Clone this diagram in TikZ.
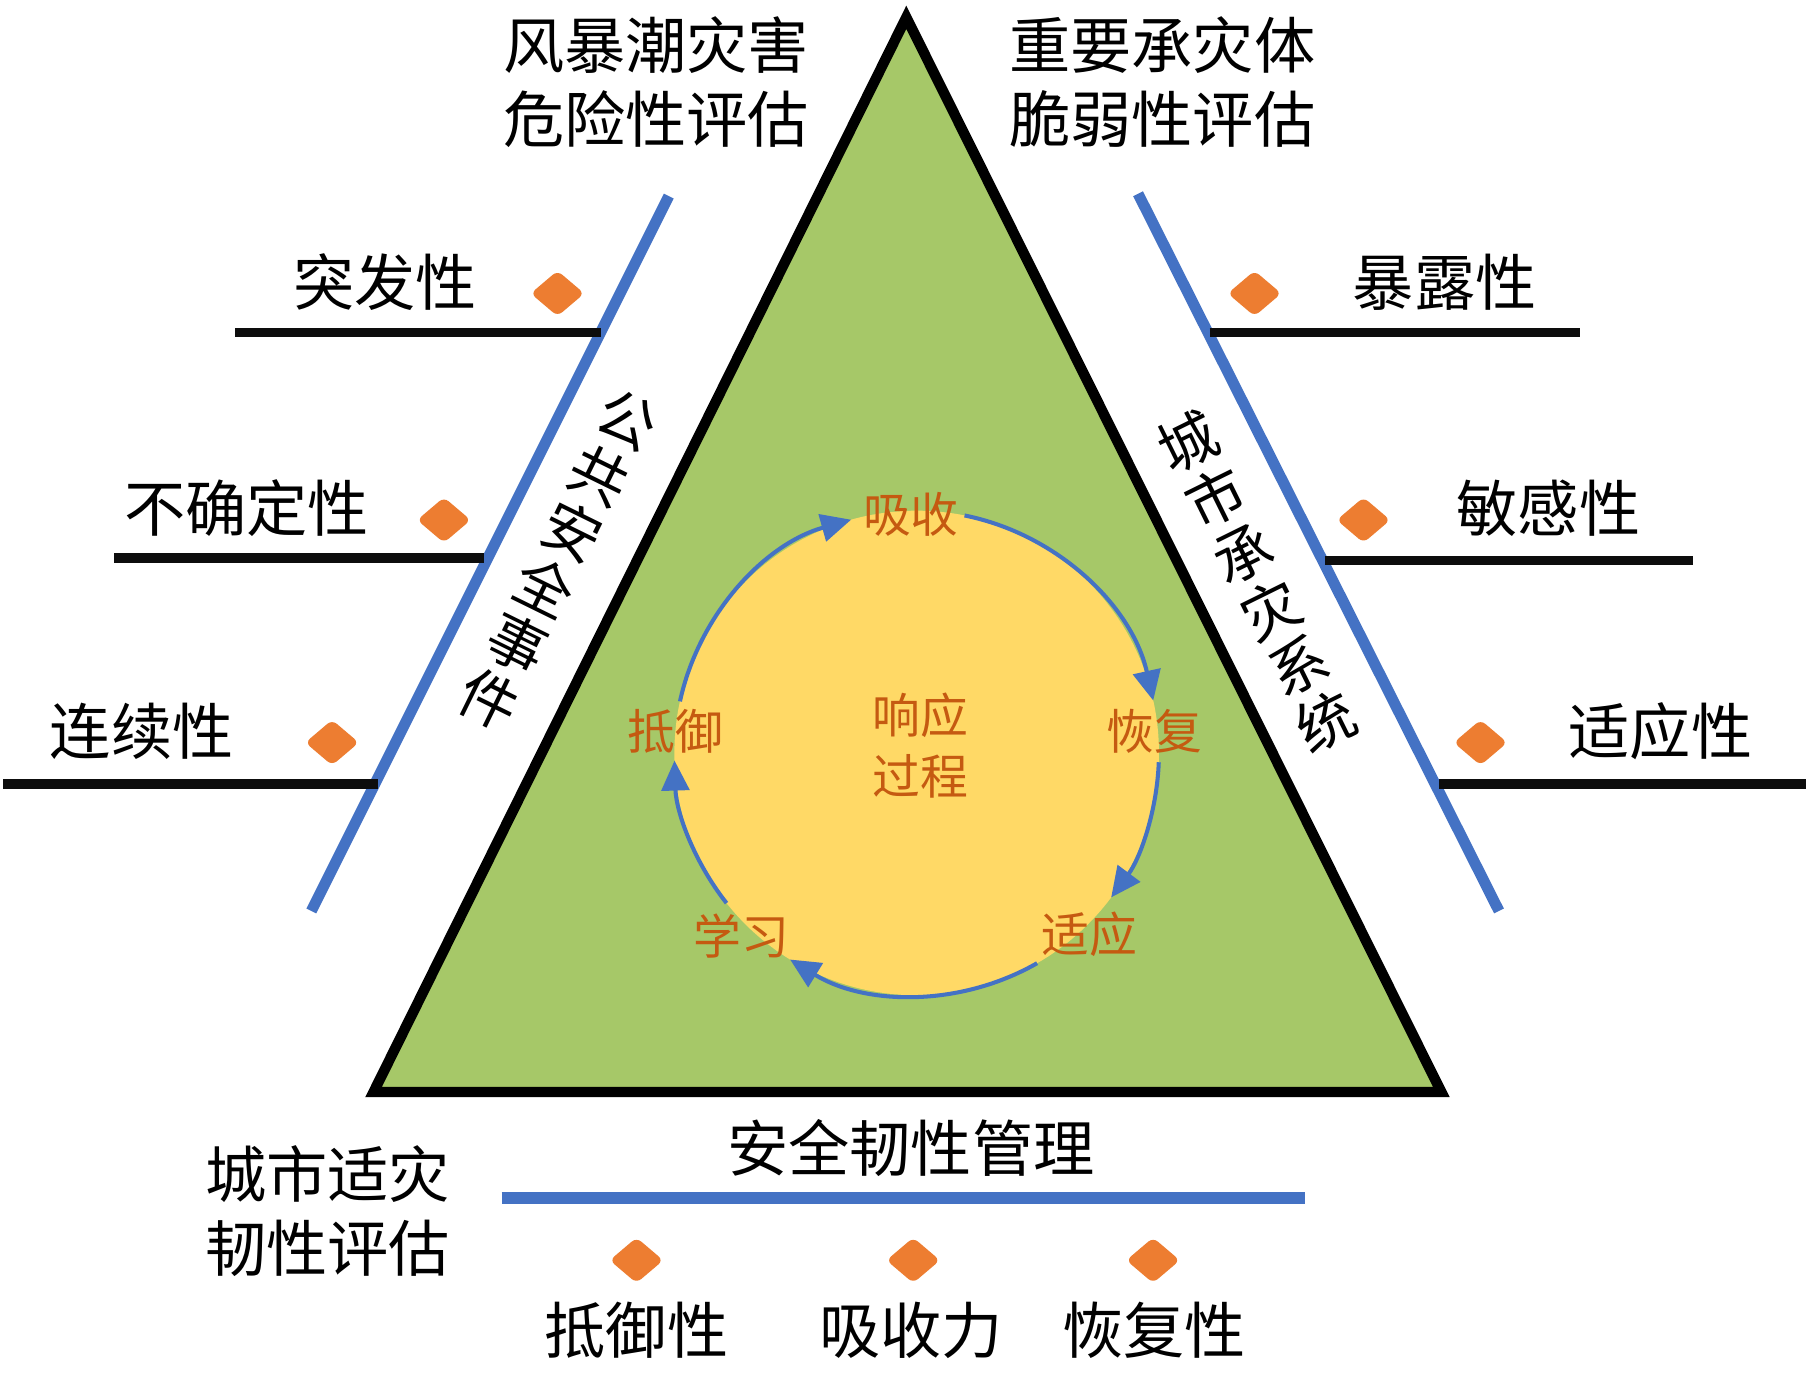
\documentclass[tikz,border=0pt]{standalone}
\usepackage{fontspec}
\newfontfamily\cjk{Noto Sans CJK SC}
\usetikzlibrary{shapes.geometric,arrows.meta,calc}
\definecolor{tgreen}{RGB}{166,200,104}
\definecolor{tyellow}{RGB}{255,217,102}
\definecolor{tblue}{RGB}{68,114,196}
\definecolor{torange}{RGB}{237,125,49}
\definecolor{tred}{RGB}{197,90,17}
\tikzset{
  lbl/.style={font=\cjk\fontsize{15.1}{18.2}\selectfont, inner sep=0pt, align=center},
  vlbl/.style={font=\cjk\fontsize{14.4}{15.4}\selectfont, inner sep=0pt, align=center},
  cl/.style={font=\cjk\fontsize{11.8}{14.5}\selectfont, text=tred, inner sep=0pt, align=center},
  dia/.style={diamond, fill=torange, minimum width=0.47cm, minimum height=0.40cm, inner sep=0pt, rounded corners=1.5pt},
  bline/.style={draw=tblue, line width=0.095cm},
  kline/.style={draw=black!95, line width=0.08cm},
  cyc/.style={draw=tblue, line width=0.035cm, -{Triangle[length=0.26cm,width=0.24cm]}}
}
\begin{document}
\begin{tikzpicture}[x=0.01cm,y=0.01cm]
\useasboundingbox (0,0) rectangle (1568,-1190);
\fill[white] (0,0) rectangle (1568,-1190);
% triangle
\draw[line width=0.09cm, fill=tgreen, miter limit=10] (786,-15) coordinate (apex) -- (324,-947) coordinate (bl) -- (1250,-947) coordinate (br) -- cycle;
% circle
\coordinate (C) at (795,-653);
\fill[tyellow] (C) circle[radius=2.1cm];
\draw[cyc] ($(C)+(167.7:2.1cm)$) arc[start angle=167.7, end angle=105.7, radius=2.1cm];
\draw[cyc] ($(C)+(78.6:2.1cm)$) arc[start angle=78.6, end angle=12.5, radius=2.1cm];
\draw[cyc] ($(C)+(-2.2:2.1cm)$) arc[start angle=-2.2, end angle=-36.6, radius=2.1cm];
\draw[cyc] ($(C)+(-60.2:2.1cm)$) arc[start angle=-60.2, end angle=-121.5, radius=2.1cm];
\draw[cyc] ($(C)+(218.3:2.1cm)$) arc[start angle=218.3, end angle=181.8, radius=2.1cm];
% circle labels
\node[cl] (xs) at (790,-446) {吸收};
\node[cl] (hf) at (1001,-634) {恢复};
\node[cl] (sy) at (945,-810) {适应};
\node[cl] (xx) at (643,-812) {学习};
\node[cl] (dy) at (586,-634) {抵御};
\node[cl] (xy) at (798,-620) {响应};
\node[cl] (gc) at (798,-673) {过程};
% blue lines
\coordinate (lbt) at (580,-170); \coordinate (lbb) at (270,-790);
\coordinate (rbt) at (987,-168); \coordinate (rbb) at (1300,-790);
\draw[bline] (lbt) -- (lbb);
\draw[bline] (rbt) -- (rbb);
\coordinate (bbl) at (435,-1039); \coordinate (bbr) at (1132,-1039);
\draw[bline, line width=0.105cm] (bbl) -- (bbr);
% black lines
\draw[kline] (204,-288.5) -- (521,-288.5);
\draw[kline] (99,-484) -- (420,-484);
\draw[kline, line width=0.09cm] (3,-680) -- (328,-680);
\draw[kline] (1049,-288.5) -- (1370,-288.5);
\draw[kline] (1149,-486) -- (1468,-486);
\draw[kline] (1248,-680) -- (1566,-680);
% diamonds
\node[dia] (d1) at (483.5,-254.5) {};
\node[dia] (d2) at (385,-451) {};
\node[dia] (d3) at (288,-644) {};
\node[dia] (d4) at (1088,-254.5) {};
\node[dia] (d5) at (1182.5,-451) {};
\node[dia] (d6) at (1284,-644) {};
\node[dia] (d7) at (552,-1093) {};
\node[dia] (d8) at (792,-1093) {};
\node[dia] (d9) at (1000,-1093) {};
% labels
\node[lbl] (h1) at (569,-71) {风暴潮灾害\\危险性评估};
\node[lbl] (h2) at (1008,-71) {重要承灾体\\脆弱性评估};
\node[lbl] (t1) at (334,-245) {突发性};
\node[lbl] (t2) at (214,-441) {不确定性};
\node[lbl] (t3) at (123,-634) {连续性};
\node[lbl] (t4) at (1253,-245) {暴露性};
\node[lbl] (t5) at (1343,-441) {敏感性};
\node[lbl] (t6) at (1440,-634) {适应性};
\node[lbl] (aq) at (790,-996) {安全韧性管理};
\node[lbl] (cs) at (284,-1050) {城市适灾\\韧性评估};
\node[lbl] (b1) at (552,-1154) {抵御性};
\node[lbl] (b2) at (790,-1154) {吸收力};
\node[lbl] (b3) at (1001,-1154) {恢复性};
% rotated
\node[vlbl, rotate=-26.2] (gg) at (484,-485.5) {公\\共\\安\\全\\事\\件};
\node[vlbl, rotate=26.3] (cc) at (1090,-504.5) {城\\市\\承\\灾\\系\\统};
\end{tikzpicture}
\end{document}
